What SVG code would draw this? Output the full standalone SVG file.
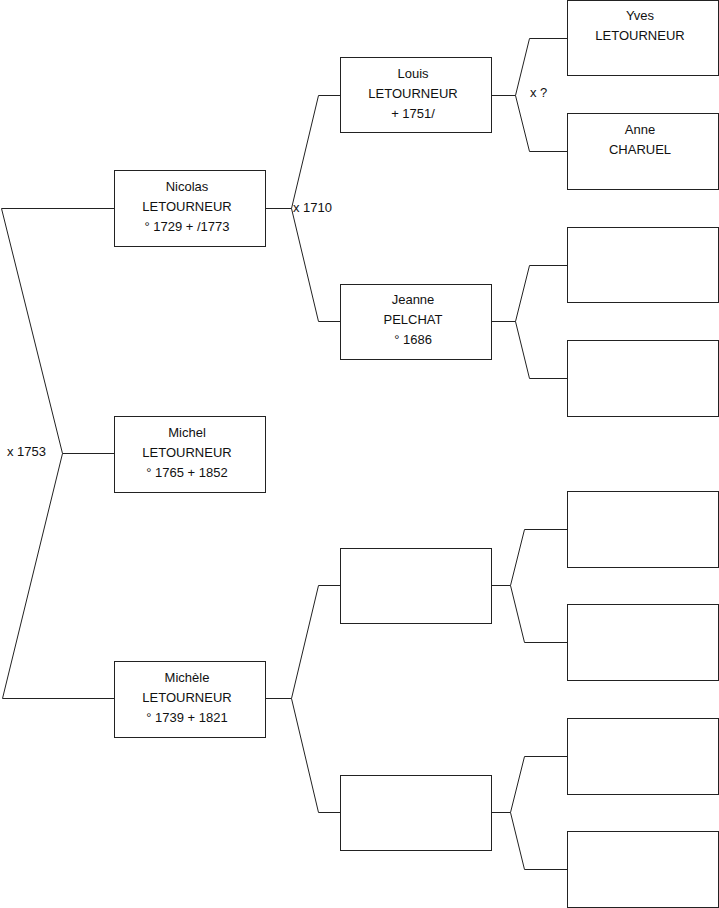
<svg xmlns="http://www.w3.org/2000/svg" width="719" height="908" viewBox="0 0 719 908">
<style>
rect{fill:#fff;stroke:#222;stroke-width:1}
.c path{fill:none;stroke:#222;stroke-width:1}
text{font-family:"Liberation Sans",Arial,sans-serif;font-size:13px;fill:#111;text-anchor:middle}
text.l{text-anchor:start}
</style>
<rect x="0" y="0" width="719" height="908" style="stroke:none"/>
<g class="c" id="connectors">
<path d="M1.5,208.5H114.5M1.5,208.5L62.5,453.5H114.5M62.5,453.5L2.5,698.5H114.5"/>
<path d="M265.5,208.5H291.5L318.5,95.5H340.5M291.5,208.5L318.5,321.5H340.5"/>
<path d="M265.5,698.5H291.5L318.5,585.5H340.5M291.5,698.5L318.5,812.5H340.5"/>
<path d="M491.5,95.5H515.5L529.5,38.5H567.5M515.5,95.5L529.5,151.5H567.5"/>
<path d="M491.5,321.5H515.5L529.5,265.5H567.5M515.5,321.5L529.5,378.5H567.5"/>
<path d="M491.5,585.5H510.5L524.5,529.5H567.5M510.5,585.5L524.5,642.5H567.5"/>
<path d="M491.5,812.5H510.5L524.5,756.5H567.5M510.5,812.5L524.5,869.5H567.5"/>
<text class="l" x="7" y="456">x 1753</text>
<text class="l" x="293" y="212">x 1710</text>
<text class="l" x="530" y="97">x ?</text>
</g>
<g id="nicolas"><rect x="114.5" y="170.5" width="151" height="76"/><text x="187" y="191">Nicolas</text><text x="187" y="211">LETOURNEUR</text><text x="187" y="231">° 1729 + /1773</text></g>
<g id="michel"><rect x="114.5" y="416.5" width="151" height="76"/><text x="187" y="437">Michel</text><text x="187" y="457">LETOURNEUR</text><text x="187" y="477">° 1765 + 1852</text></g>
<g id="michele"><rect x="114.5" y="661.5" width="151" height="76"/><text x="187" y="682">Michèle</text><text x="187" y="702">LETOURNEUR</text><text x="187" y="722">° 1739 + 1821</text></g>
<g id="louis"><rect x="340.5" y="57.5" width="151" height="75"/><text x="413" y="78">Louis</text><text x="413" y="98">LETOURNEUR</text><text x="413" y="118">+ 1751/</text></g>
<g id="jeanne"><rect x="340.5" y="284.5" width="151" height="75"/><text x="413" y="304">Jeanne</text><text x="413" y="324">PELCHAT</text><text x="413" y="344">° 1686</text></g>
<g id="p3"><rect x="340.5" y="548.5" width="151" height="75"/></g>
<g id="p4"><rect x="340.5" y="775.5" width="151" height="75"/></g>
<g id="yves"><rect x="567.5" y="0.5" width="151" height="75"/><text x="640" y="20">Yves</text><text x="640" y="40">LETOURNEUR</text></g>
<g id="anne"><rect x="567.5" y="113.5" width="151" height="76"/><text x="640" y="134">Anne</text><text x="640" y="154">CHARUEL</text></g>
<g id="g3"><rect x="567.5" y="227.5" width="151" height="75"/></g>
<g id="g4"><rect x="567.5" y="340.5" width="151" height="76"/></g>
<g id="g5"><rect x="567.5" y="491.5" width="151" height="76"/></g>
<g id="g6"><rect x="567.5" y="604.5" width="151" height="76"/></g>
<g id="g7"><rect x="567.5" y="718.5" width="151" height="76"/></g>
<g id="g8"><rect x="567.5" y="831.5" width="151" height="76"/></g>
</svg>
